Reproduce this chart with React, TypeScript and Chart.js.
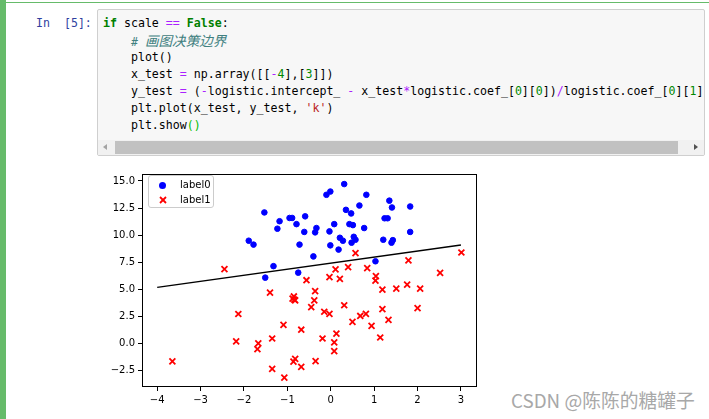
import React, { useEffect, useRef } from "react";
import { Chart, registerables } from "chart.js";

Chart.register(...registerables);

// ---- data ----
const xTicks = [-4, -3, -2, -1, 0, 1, 2, 3];
const yTicks = [-2.5, 0, 2.5, 5, 7.5, 10, 12.5, 15];

const label0X = [-1.53, -1.18, -0.95, -0.89, -0.59, -1.23, -0.79, -0.61, -1.89, -1.78, -0.72, -1.32, -0.75, -1.51, 0.31, -0.1, -0.01, 0.82, 1.35, 1.41, 1.83, 0.35, 0.47, 0.66, 1.24, 1.31, 0.08, 0.43, 0.51, 0.77, -0.33, -0.36, -0.03, 1.83, 0.21, 0.28, 0.53, 0.57, 0.48, 1.21, 1.43, 1.4, -0.01, 0.18, -0.4, 1.03];
const label0Y = [12.09, 11.28, 11.58, 11.58, 11.73, 10.59, 11.01, 10.29, 9.48, 9.12, 9.12, 7.13, 6.53, 6.07, 14.71, 13.72, 14.02, 13.72, 13.18, 12.55, 12.64, 12.33, 12.0, 12.73, 11.55, 11.55, 11.01, 11.01, 10.92, 10.65, 10.65, 10.25, 10.34, 10.29, 9.75, 9.48, 9.84, 9.57, 9.3, 9.57, 9.53, 9.3, 9.05, 8.66, 8.03, 7.58];

const label1X = [-2.45, -0.56, 0.57, 1.79, 3.01, 0.84, 0.4, 0.11, -0.03, 0.21, 1.04, 1.03, 2.52, -0.36, 1.19, 1.51, 1.76, 2.06, -0.38, -0.45, -0.15, -0.03, 0.31, 0.5, 0.68, 0.81, 1.19, 2.0, 1.33, 0.94, -0.19, 0.13, 0.08, 0.08, 1.14, -0.35, -1.4, -0.85, -0.84, -0.88, -0.82, -2.13, -1.09, -0.68, -2.18, -1.67, -1.69, -1.35, -3.65, -0.82, -0.86, -0.68, -1.35, -1.07];
const label1Y = [6.86, 5.83, 8.33, 7.67, 8.39, 6.95, 7.04, 6.84, 6.12, 5.96, 6.21, 5.8, 6.51, 4.83, 4.97, 5.05, 5.42, 5.05, 3.97, 3.35, 2.92, 2.73, 3.52, 1.99, 2.53, 2.73, 3.16, 3.25, 2.17, 1.62, 0.45, 0.9, 0.09, -0.72, 0.54, -1.64, 4.69, 4.33, 4.03, 4.13, 3.97, 2.71, 1.71, 1.26, 0.18, 0.0, -0.54, 0.45, -1.66, -1.44, -1.69, -2.17, -2.35, -3.16];

const boundaryX = [-4, 3];
const boundaryY = [5.17, 9.08];

const seriesNames = ["label0", "label1"];

// ---- code cell text ----
type Tok = [string, string?];
const codeLines: Tok[][] = [
  [["if", "k"], [" scale "], ["==", "o"], [" "], ["False", "k"], [":"]],
  [["    "], ["# ", "c"], ["画图决策边界", "cj"]],
  [["    plot()"]],
  [["    x_test "], ["=", "o"], [" np.array([["], ["-", "o"], ["4", "n"], ["],["], ["3", "n"], ["]])"]],
  [["    y_test "], ["=", "o"], [" ("], ["-", "o"], ["logistic.intercept_ "], ["-", "o"], [" x_test"], ["*", "o"], ["logistic.coef_["], ["0", "n"], ["]["], ["0", "n"], ["])"], ["/", "o"], ["logistic.coef_["], ["0", "n"], ["]["], ["1", "n"], ["])"]],
  [["    plt.plot(x_test, y_test, "], ["'k'", "s"], [")"]],
  [["    plt.show"], ["()", "b"]],
];

const tokStyle = (t?: string): React.CSSProperties => {
  switch (t) {
    case "k": return { color: "#008000", fontWeight: "bold" };
    case "o": return { color: "#AA22FF" };
    case "n": return { color: "#008800" };
    case "s": return { color: "#BA2121" };
    case "c": return { color: "#408080", fontStyle: "italic" };
    case "cj": return { color: "#408080", fontStyle: "italic", fontFamily: "'Noto Sans CJK SC', sans-serif", fontSize: "13.6px" };
    case "b": return { color: "#00bb00" };
    default: return { color: "#000" };
  }
};

const MONO = "'DejaVu Sans Mono', 'Liberation Mono', monospace";

const fmt = (v: number, d: number) => (v < 0 ? "\u2212" : "") + Math.abs(v).toFixed(d);

const framePlugin = {
  id: "frame",
  afterDatasetsDraw(chart: any) {
    const { ctx, chartArea } = chart;
    const l = Math.round(chartArea.left) + 0.5;
    const t = Math.round(chartArea.top) + 0.5;
    const r = Math.round(chartArea.right) - 0.5;
    const b = Math.round(chartArea.bottom) - 0.5;
    ctx.save();
    ctx.strokeStyle = "#000";
    ctx.lineWidth = 1;
    ctx.strokeRect(l, t, r - l, b - t);
    ctx.restore();
  },
};

function ScatterChart() {
  const ref = useRef<HTMLCanvasElement | null>(null);
  useEffect(() => {
    if (!ref.current) return;
    const chart = new Chart(ref.current, {
      type: "scatter",
      data: {
        datasets: [
          {
            type: "line",
            label: "boundary",
            data: boundaryX.map((x, i) => ({ x, y: boundaryY[i] })),
            borderColor: "#000",
            borderWidth: 1.5,
            pointRadius: 0,
            showLine: true,
            fill: false,
            order: 0,
          } as any,
          {
            label: seriesNames[1],
            data: label1X.map((x, i) => ({ x, y: label1Y[i] })),
            pointStyle: "crossRot",
            pointRadius: 4.2,
            borderColor: "#ff0000",
            backgroundColor: "#ff0000",
            pointBorderWidth: 1.8,
            order: 1,
          } as any,
          {
            label: seriesNames[0],
            data: label0X.map((x, i) => ({ x, y: label0Y[i] })),
            pointStyle: "circle",
            pointRadius: 2.8,
            borderColor: "#0000ff",
            backgroundColor: "#0000ff",
            pointBorderWidth: 1,
            order: 2,
          } as any,
        ],
      },
      options: {
        animation: false,
        responsive: false,
        maintainAspectRatio: false,
        events: [],
        layout: { padding: { left: 0, top: 4, right: 13, bottom: 0 } },
        plugins: { legend: { display: false }, tooltip: { enabled: false } },
        scales: {
          x: {
            type: "linear",
            min: -4.35,
            max: 3.37,
            afterBuildTicks: (s: any) => { s.ticks = xTicks.map((v) => ({ value: v })); },
            afterFit: (s: any) => { s.height = 23; },
            ticks: {
              callback: (v: any) => fmt(Number(v), 0),
              font: { family: "'DejaVu Sans', sans-serif", size: 10 },
              color: "#000",
              padding: 3,
              maxRotation: 0,
              autoSkip: false,
            },
            grid: { drawOnChartArea: false, drawTicks: true, tickLength: 4, tickColor: "#000", tickWidth: 1 },
            border: { display: false },
          },
          y: {
            type: "linear",
            min: -4.03,
            max: 15.64,
            afterBuildTicks: (s: any) => { s.ticks = yTicks.map((v) => ({ value: v })); },
            afterFit: (s: any) => { s.width = 42; },
            ticks: {
              callback: (v: any) => fmt(Number(v), 1),
              font: { family: "'DejaVu Sans', sans-serif", size: 10 },
              color: "#000",
              padding: 3,
              autoSkip: false,
            },
            grid: { drawOnChartArea: false, drawTicks: true, tickLength: 4, tickColor: "#000", tickWidth: 1 },
            border: { display: false },
          },
        },
      } as any,
      plugins: [framePlugin],
    });
    return () => chart.destroy();
  }, []);
  return (
    <canvas
      ref={ref}
      width={390}
      height={245}
      style={{ position: "absolute", left: 100, top: 165, width: 390, height: 245 }}
    />
  );
}

export default function App() {
  return (
    <div style={{ position: "absolute", left: 0, top: 0, width: 709, height: 419, background: "#fff", overflow: "hidden" }}>
      {/* selected cell borders */}
      <div style={{ position: "absolute", left: 0, top: 2, width: 709, height: 1, background: "#66BB6A" }} />
      <div style={{ position: "absolute", left: 0, top: 0, width: 6, height: 419, background: "#66BB6A" }} />

      {/* prompt */}
      <div style={{ position: "absolute", left: 36, top: 15, fontFamily: MONO, fontSize: "11.6px", lineHeight: "17px", color: "#303F9F", whiteSpace: "pre" }}>
        {"In  [5]:"}
      </div>

      {/* code box */}
      <div style={{ position: "absolute", left: 97, top: 9, width: 606, height: 145, border: "1px solid #cfcfcf", background: "#f7f7f7", borderRadius: 2, overflow: "hidden" }}>
        <div style={{ position: "absolute", left: 5, top: 5, fontFamily: MONO, fontSize: "11.6px", lineHeight: "17px", whiteSpace: "pre" }}>
          {codeLines.map((line, i) => (
            <div key={i} style={{ height: 17 }}>
              {line.map((t, j) => (
                <span key={j} style={tokStyle(t[1])}>{t[0]}</span>
              ))}
            </div>
          ))}
        </div>
        {/* horizontal scrollbar */}
        <div style={{ position: "absolute", left: 0, top: 130, width: 606, height: 15, background: "#f1f1f1" }}>
          <div style={{ position: "absolute", left: 17, top: 1, width: 563, height: 13, background: "#c1c1c1" }} />
          <div style={{ position: "absolute", left: 5, top: 4, width: 0, height: 0, borderTop: "3.5px solid transparent", borderBottom: "3.5px solid transparent", borderRight: "4px solid #a3a3a3" }} />
          <div style={{ position: "absolute", left: 596, top: 4, width: 0, height: 0, borderTop: "3.5px solid transparent", borderBottom: "3.5px solid transparent", borderLeft: "4px solid #505050" }} />
        </div>
      </div>

      <ScatterChart />

      {/* legend */}
      <div style={{ position: "absolute", left: 148, top: 175, width: 64, height: 31, border: "1px solid #cccccc", borderRadius: 3, background: "rgba(255,255,255,0.8)" }}>
        <div style={{ position: "absolute", left: 10, top: 6, width: 7, height: 7, borderRadius: "50%", background: "#0000ff" }} />
        <svg style={{ position: "absolute", left: 10, top: 20 }} width={8} height={8}>
          <line x1={1} y1={1} x2={7} y2={7} stroke="#ff0000" strokeWidth={1.8} />
          <line x1={7} y1={1} x2={1} y2={7} stroke="#ff0000" strokeWidth={1.8} />
        </svg>
        <div style={{ position: "absolute", left: 31, top: 3, fontFamily: "'DejaVu Sans', sans-serif", fontSize: 10, lineHeight: "12px", color: "#000" }}>{seriesNames[0]}</div>
        <div style={{ position: "absolute", left: 31, top: 18, fontFamily: "'DejaVu Sans', sans-serif", fontSize: 10, lineHeight: "12px", color: "#000" }}>{seriesNames[1]}</div>
      </div>

      {/* watermark */}
      <div style={{ position: "absolute", left: 511, top: 388, fontFamily: "'Noto Sans CJK SC', sans-serif", fontSize: "18.8px", lineHeight: "24px", color: "#a8a8a8", whiteSpace: "pre" }}>
        CSDN @陈陈的糖罐子
      </div>
    </div>
  );
}
